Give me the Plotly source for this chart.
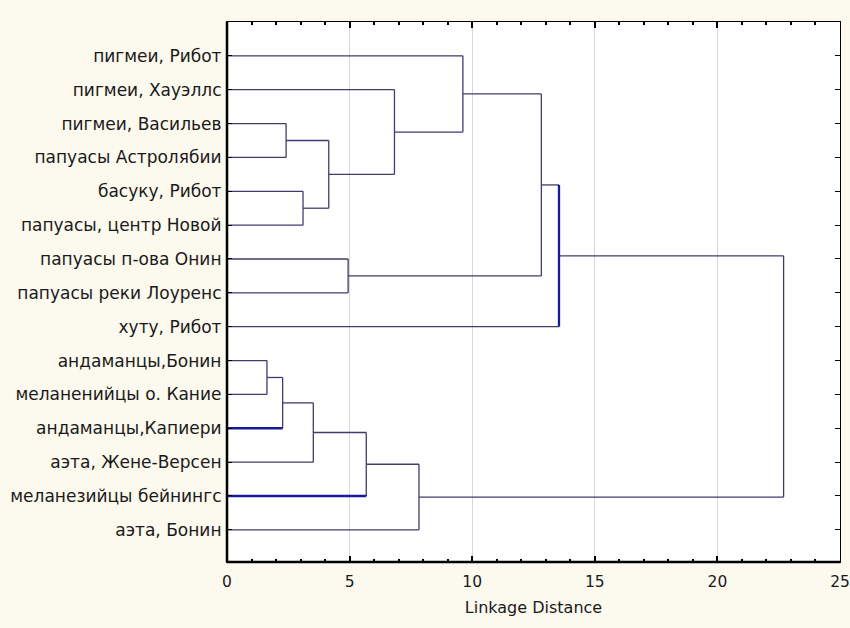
import plotly.graph_objects as go

# ---- data ----
labels = [
    "пигмеи, Рибот",
    "пигмеи, Хауэллс",
    "пигмеи, Васильев",
    "папуасы Астролябии",
    "басуку, Рибот",
    "папуасы, центр Новой",
    "папуасы п-ова Онин",
    "папуасы реки Лоуренс",
    "хуту, Рибот",
    "андаманцы,Бонин",
    "меланенийцы о. Кание",
    "андаманцы,Капиери",
    "аэта, Жене-Версен",
    "меланезийцы бейнингс",
    "аэта, Бонин",
]
# merges: new cluster id = 15 + index
merge_left = [9, 15, 2, 4, 16, 17, 6, 19, 20, 22, 23, 25, 26, 27]
merge_right = [10, 11, 3, 5, 12, 18, 7, 13, 1, 14, 0, 21, 8, 24]
merge_height = [1.63, 2.27, 2.41, 3.10, 3.52, 4.15, 4.94, 5.68, 6.83, 7.83,
                9.62, 12.82, 13.54, 22.70]
x_ticks = [0, 5, 10, 15, 20, 25]

# segments drawn emphasised (darker blue, thicker) as in the original
hl_leaves = [11, 13]
hl_vertical_nodes = [27]

n = len(labels)
ypos = {i: i for i in range(n)}
hgt = {i: 0.0 for i in range(n)}

norm_x, norm_y, hl_x, hl_y = [], [], [], []


def add(seg, hl):
    xs, ys = (hl_x, hl_y) if hl else (norm_x, norm_y)
    xs += [seg[0][0], seg[1][0], None]
    ys += [seg[0][1], seg[1][1], None]


for k, (a, b, h) in enumerate(zip(merge_left, merge_right, merge_height)):
    node = n + k
    for c in (a, b):
        add(((hgt[c], ypos[c]), (h, ypos[c])), c in hl_leaves)
    add(((h, ypos[a]), (h, ypos[b])), node in hl_vertical_nodes)
    ypos[node] = (ypos[a] + ypos[b]) / 2
    hgt[node] = h

FONT = "DejaVu Sans, Liberation Sans, Arial, sans-serif"
BG = "#fcf9ee"

fig = go.Figure()
fig.add_trace(go.Scatter(x=norm_x, y=norm_y, mode="lines",
                         line=dict(color="#3d3d6e", width=1.3),
                         hoverinfo="skip", showlegend=False))
fig.add_trace(go.Scatter(x=hl_x, y=hl_y, mode="lines",
                         line=dict(color="#1a1a96", width=2.3),
                         hoverinfo="skip", showlegend=False))

fig.update_layout(
    width=850, height=628,
    margin=dict(l=227, r=10, t=22, b=66),
    paper_bgcolor=BG,
    plot_bgcolor="#ffffff",
    font=dict(family=FONT, size=15, color="#1a1a1a"),
    xaxis=dict(
        range=[0, 25], tickvals=x_ticks, ticktext=[str(v) for v in x_ticks],
        showgrid=True, gridcolor="#d6d6dc", gridwidth=1,
        ticks="inside", ticklen=6, tickcolor="#000", tickwidth=1.5,
        minor=dict(dtick=1, ticks="inside", ticklen=3, tickcolor="#000", showgrid=False),
        showline=True, linecolor="#000", linewidth=1.2, mirror="ticks",
        zeroline=False, automargin=False, ticklabeloverflow="allow",
        ticklabelstandoff=5,
        tickfont=dict(size=15.5),
        title=dict(text="Linkage Distance", font=dict(size=16), standoff=12),
    ),
    yaxis=dict(
        range=[n - 0.05, -1], tickvals=list(range(n)), ticktext=labels,
        showgrid=False, zeroline=False,
        ticks="inside", ticklen=5, tickcolor="#000",
        showline=True, linecolor="#000", linewidth=1.2, mirror="ticks",
        automargin=False, tickfont=dict(size=17), ticklabelstandoff=1,
    ),
    shapes=[
        dict(type="line", xref="paper", yref="paper", x0=0, x1=0, y0=0, y1=1,
             line=dict(color="#000", width=2.5)),
        dict(type="line", xref="paper", yref="paper", x0=0, x1=1, y0=0, y1=0,
             line=dict(color="#000", width=2.5)),
    ],
)

fig.write_html(
    "out.html",
    config={"displayModeBar": False},
    post_script=(
        f"document.body.style.background='{BG}';"
        "document.body.style.margin='0';"
        "document.body.style.overflow='hidden';"
        "document.documentElement.style.overflow='hidden';"
    ),
)
